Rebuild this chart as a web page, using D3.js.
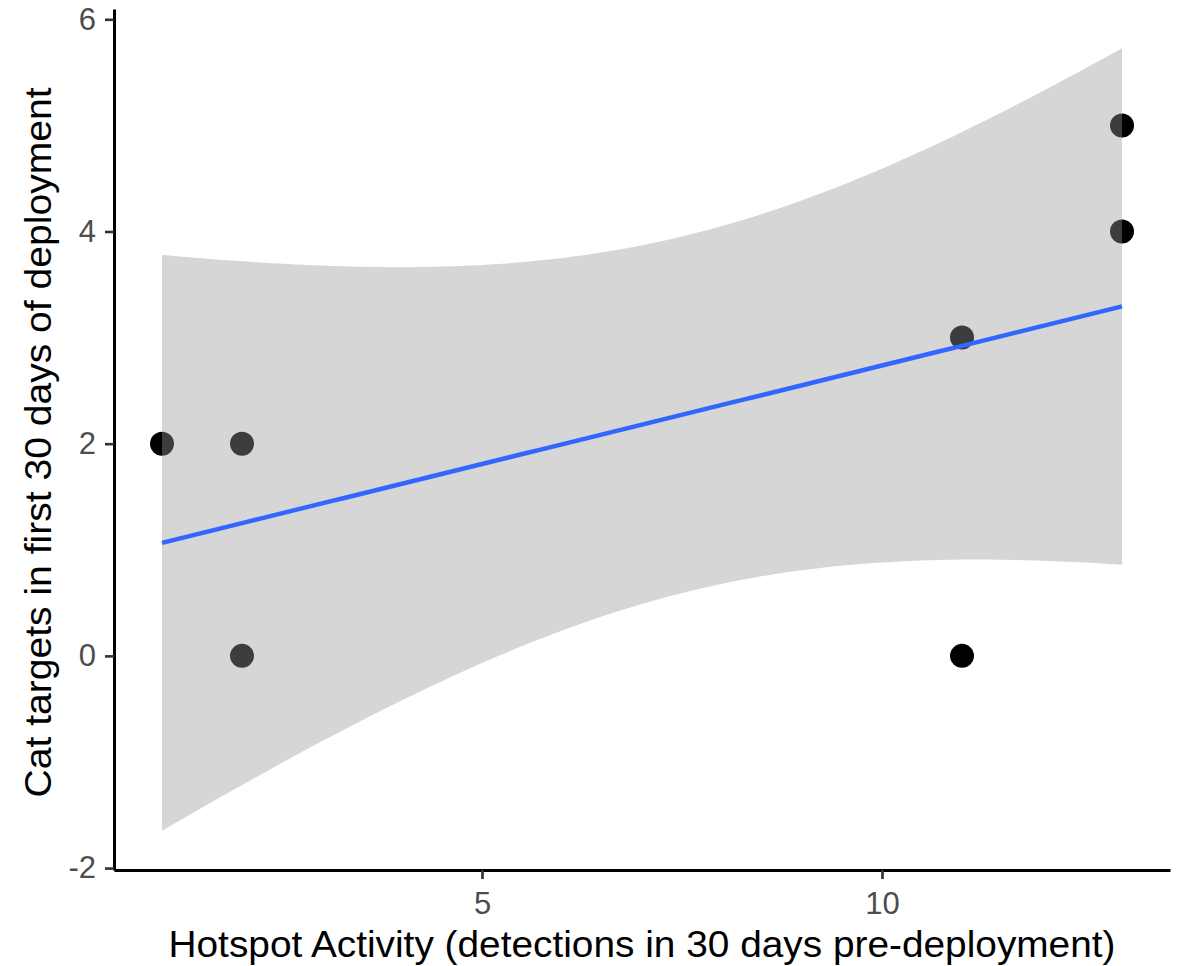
<!DOCTYPE html>
<meta charset="utf-8">
<script src="https://d3js.org/d3.v7.min.js"></script>
<style>
  body { margin: 0; background: #fff; }
  text { font-family: "Liberation Sans", Arial, sans-serif; }
</style>
<div id="chart"></div>
<script>

// data: one row per deployment site
var activity = [1, 2, 2, 11, 11, 13, 13];
var targets  = [2, 2, 0, 3, 0, 5, 4];

var xTicks = [5, 10];
var yTicks = [-2, 0, 2, 4, 6];

var xTitle = "Hotspot Activity (detections in 30 days pre-deployment)";
var yTitle = "Cat targets in first 30 days of deployment";

var tCrit = 2.570582; // qt(0.975, df = n - 2 = 5)

var W = 1183, H = 966;
var margin = {top: 9, right: 13, bottom: 96, left: 114};

// linear fit (same as geom_smooth(method = "lm"))
var n = activity.length,
    mx = d3.mean(activity),
    my = d3.mean(targets),
    sxx = d3.sum(activity, function(d) { return (d - mx) * (d - mx); }),
    sxy = d3.sum(activity, function(d, i) { return (d - mx) * (targets[i] - my); }),
    slope = sxy / sxx,
    icpt = my - slope * mx,
    sse = d3.sum(activity, function(d, i) { var r = targets[i] - (icpt + slope * d); return r * r; }),
    s2 = sse / (n - 2);

var xr = d3.extent(activity);
var smooth = d3.range(80).map(function(i) {
  var x = xr[0] + i * (xr[1] - xr[0]) / 79;
  var fit = icpt + slope * x;
  var se = Math.sqrt(s2 * (1 / n + (x - mx) * (x - mx) / sxx));
  return {x: x, fit: fit, lo: fit - tCrit * se, hi: fit + tCrit * se};
});

// ggplot style 5% expansion
function expand(e) { var p = (e[1] - e[0]) * 0.05; return [e[0] - p, e[1] + p]; }
var yr = d3.extent(targets.concat(smooth.map(function(d) { return d.lo; }), smooth.map(function(d) { return d.hi; })));

var x = d3.scaleLinear().domain(expand(xr)).range([margin.left, W - margin.right]);
var y = d3.scaleLinear().domain(expand(yr)).range([H - margin.bottom, margin.top]);

var svg = d3.select("#chart").append("svg")
    .attr("width", W)
    .attr("height", H)
    .style("background-color", "#ffffff");

// points first, the ribbon goes over them
svg.append("g")
  .selectAll("circle")
  .data(activity)
  .enter()
  .append("circle")
    .attr("cx", function(d) { return x(d); })
    .attr("cy", function(d, i) { return y(targets[i]); })
    .attr("r", 12)
    .attr("fill", "#000");

svg.append("path")
  .datum(smooth)
  .attr("fill", "#999999")
  .attr("fill-opacity", 0.4)
  .attr("d", d3.area()
    .x(function(d) { return x(d.x); })
    .y0(function(d) { return y(d.lo); })
    .y1(function(d) { return y(d.hi); }));

svg.append("path")
  .datum(smooth)
  .attr("fill", "none")
  .attr("stroke", "#3366FF")
  .attr("stroke-width", 4.5)
  .attr("d", d3.line()
    .x(function(d) { return x(d.x); })
    .y(function(d) { return y(d.fit); }));

// axes
var fmt = function(d) { return String(d); }; // plain hyphen for negatives

var xg = svg.append("g")
  .attr("transform", "translate(0," + (H - margin.bottom) + ")")
  .call(d3.axisBottom(x).tickValues(xTicks).tickFormat(fmt).tickSize(9).tickSizeOuter(0).tickPadding(13));

var yg = svg.append("g")
  .attr("transform", "translate(" + margin.left + ",0)")
  .call(d3.axisLeft(y).tickValues(yTicks).tickFormat(fmt).tickSize(9).tickSizeOuter(0).tickPadding(9));

[xg, yg].forEach(function(g) {
  g.select(".domain").attr("stroke", "#000").attr("stroke-width", 3);
  g.selectAll(".tick line").attr("stroke", "#333").attr("stroke-width", 2.6);
  g.selectAll(".tick text")
    .attr("fill", "#4D4D4D")
    .style("font-size", "31px")
    .style("font-family", '"Liberation Sans", Arial, sans-serif');
});

// axis titles (glyphs in the source are a bit wide, so fix the length)
svg.append("text")
  .attr("text-anchor", "middle")
  .attr("x", (margin.left + W - margin.right) / 2)
  .attr("y", 957)
  .attr("textLength", 947)
  .attr("lengthAdjust", "spacingAndGlyphs")
  .style("font-size", "36px")
  .attr("fill", "#000")
  .text(xTitle);

svg.append("text")
  .attr("text-anchor", "middle")
  .attr("transform", "translate(51," + ((margin.top + H - margin.bottom) / 2 + 3) + ") rotate(-90)")
  .attr("textLength", 710)
  .attr("lengthAdjust", "spacingAndGlyphs")
  .style("font-size", "36px")
  .attr("fill", "#000")
  .text(yTitle);

</script>
